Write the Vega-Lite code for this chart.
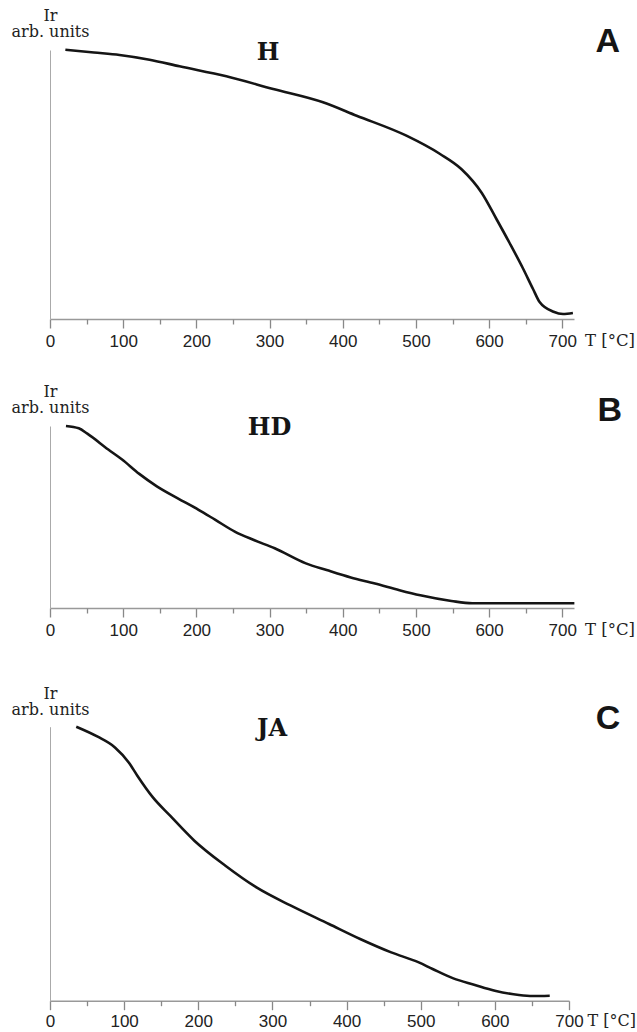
{
  "$schema": "https://vega.github.io/schema/vega-lite/v6.json",
  "background": "white",
  "padding": {"left": 11, "top": 7, "right": 0, "bottom": 0},
  "config": {"view": {"stroke": null}, "axis": {"grid": false}},
  "datasets": {
    "A": [
      {"T": 21, "Ir": 269.3}, {"T": 60, "Ir": 266.5}, {"T": 95, "Ir": 264}, {"T": 136, "Ir": 259.3},
      {"T": 177, "Ir": 252.7}, {"T": 241, "Ir": 242.7}, {"T": 305, "Ir": 230}, {"T": 373, "Ir": 216.7},
      {"T": 419, "Ir": 203.3}, {"T": 487, "Ir": 183.3}, {"T": 533, "Ir": 165}, {"T": 562, "Ir": 150},
      {"T": 590, "Ir": 126}, {"T": 610, "Ir": 100}, {"T": 628, "Ir": 76}, {"T": 646, "Ir": 51},
      {"T": 660, "Ir": 30}, {"T": 669, "Ir": 17}, {"T": 688, "Ir": 7.3}, {"T": 701, "Ir": 5},
      {"T": 714.5, "Ir": 6}
    ],
    "B": [
      {"T": 21.8, "Ir": 182}, {"T": 39.3, "Ir": 179.7}, {"T": 51, "Ir": 174.3}, {"T": 79.6, "Ir": 158.5},
      {"T": 98.5, "Ir": 148.5}, {"T": 122, "Ir": 134.1}, {"T": 146, "Ir": 121.7}, {"T": 174, "Ir": 109.9},
      {"T": 203, "Ir": 98.2}, {"T": 226, "Ir": 88.1}, {"T": 252.5, "Ir": 76.4}, {"T": 278.5, "Ir": 68},
      {"T": 307, "Ir": 59.7}, {"T": 349.6, "Ir": 44.6}, {"T": 378, "Ir": 37.9}, {"T": 411, "Ir": 30.5},
      {"T": 444, "Ir": 24.5}, {"T": 477.5, "Ir": 17.8}, {"T": 506, "Ir": 12.7}, {"T": 548.5, "Ir": 7},
      {"T": 577, "Ir": 4.7}, {"T": 716.5, "Ir": 4.7}
    ],
    "C": [
      {"T": 35.4, "Ir": 274}, {"T": 64.3, "Ir": 264}, {"T": 87.6, "Ir": 253.3}, {"T": 106.2, "Ir": 238.3},
      {"T": 117.8, "Ir": 225}, {"T": 138.8, "Ir": 203.3}, {"T": 162, "Ir": 185}, {"T": 194.7, "Ir": 160},
      {"T": 236.6, "Ir": 135}, {"T": 278.5, "Ir": 113.3}, {"T": 325, "Ir": 95}, {"T": 376.3, "Ir": 76.7},
      {"T": 418.3, "Ir": 61.7}, {"T": 460.2, "Ir": 48.3}, {"T": 497.4, "Ir": 38.3}, {"T": 516, "Ir": 31.7},
      {"T": 544, "Ir": 22.3}, {"T": 572, "Ir": 16}, {"T": 600, "Ir": 10}, {"T": 632.5, "Ir": 5.7},
      {"T": 651, "Ir": 4.7}, {"T": 674, "Ir": 5}
    ],
    "labels": [
      {"panel": "A", "sample": "H"},
      {"panel": "B", "sample": "HD"},
      {"panel": "C", "sample": "JA"}
    ]
  },
  "spacing": 107,
  "bounds": "flush",
  "vconcat": [
    {
      "width": 524,
      "height": 269,
      "resolve": {"axis": {"x": "independent", "y": "independent"}},
      "layer": [
        {
          "data": {"name": "A"},
          "mark": {"type": "line", "color": "#151515", "strokeWidth": 2.6, "interpolate": "monotone"},
          "encoding": {
            "x": {"field": "T", "type": "quantitative", "scale": {"domain": [0, 716], "nice": false, "zero": false},
              "axis": {"orient": "bottom", "values": [0, 100, 200, 300, 400, 500, 600, 700], "format": "d", "tickSize": 9, "tickColor": "#888", "tickWidth": 1.3,
                "domainColor": "#999", "domainWidth": 1.6, "labelFont": "Liberation Sans", "labelFontSize": 17, "labelColor": "#222",
                "labelPadding": 5, "labelFlush": false, "labelOverlap": false, "grid": false,
                "title": "T [°C]", "titleFont": "DejaVu Serif", "titleFontSize": 16.5, "titleFontWeight": "normal", "titleColor": "#222",
                "titleX": 534.5, "titleY": 13, "titleAlign": "left", "titleBaseline": "top"}},
            "y": {"field": "Ir", "type": "quantitative", "scale": {"domain": [0, 269], "nice": false, "zero": false},
              "axis": {"orient": "left", "domain": true, "domainColor": "#aaa", "domainWidth": 1, "ticks": false, "labels": false, "grid": false,
                "title": ["Ir", "arb. units"], "titleFont": "DejaVu Serif", "titleFontSize": 16, "titleFontWeight": "normal", "titleColor": "#222",
                "titleAngle": 0, "titleAlign": "center", "titleBaseline": "bottom", "titleX": 0, "titleY": -27, "titleLineHeight": 16}}
          }
        },
        {
          "data": {"name": "labels"},
          "transform": [{"filter": "datum.panel === 'A'"}],
          "mark": {"type": "text", "font": "DejaVu Serif", "fontWeight": "bold", "fontSize": 24, "color": "#151515", "align": "center", "baseline": "alphabetic"},
          "encoding": {
            "x": {"datum": 298, "type": "quantitative",
              "axis": {"orient": "bottom", "values": [50, 150, 250, 350, 450, 550, 650], "tickSize": 5, "tickColor": "#888", "tickWidth": 1.3, "domain": false, "labels": false, "title": null, "grid": false}},
            "y": {"datum": 259, "type": "quantitative", "axis": null},
            "text": {"field": "sample"}
          }
        },
        {
          "data": {"name": "labels"},
          "transform": [{"filter": "datum.panel === 'A'"}],
          "mark": {"type": "text", "font": "Liberation Sans", "fontWeight": "bold", "fontSize": 34, "color": "#151515", "align": "center", "baseline": "alphabetic"},
          "encoding": {
            "x": {"datum": 762, "type": "quantitative", "axis": null},
            "y": {"datum": 267, "type": "quantitative", "axis": null},
            "text": {"field": "panel"}
          }
        }
      ]
    },
    {
      "spacing": 118.7,
      "bounds": "flush",
      "vconcat": [
        {
          "width": 524,
          "height": 182,
          "resolve": {"axis": {"x": "independent", "y": "independent"}},
          "layer": [
            {
              "data": {"name": "B"},
              "mark": {"type": "line", "color": "#151515", "strokeWidth": 2.6, "interpolate": "monotone"},
              "encoding": {
                "x": {"field": "T", "type": "quantitative", "scale": {"domain": [0, 716], "nice": false, "zero": false},
                  "axis": {"orient": "bottom", "values": [0, 100, 200, 300, 400, 500, 600, 700], "format": "d", "tickSize": 9, "tickColor": "#888", "tickWidth": 1.3,
                    "domainColor": "#999", "domainWidth": 1.6, "labelFont": "Liberation Sans", "labelFontSize": 17, "labelColor": "#222",
                    "labelPadding": 5, "labelFlush": false, "labelOverlap": false, "grid": false,
                    "title": "T [°C]", "titleFont": "DejaVu Serif", "titleFontSize": 16.5, "titleFontWeight": "normal", "titleColor": "#222",
                    "titleX": 534.5, "titleY": 13, "titleAlign": "left", "titleBaseline": "top"}},
                "y": {"field": "Ir", "type": "quantitative", "scale": {"domain": [0, 182], "nice": false, "zero": false},
                  "axis": {"orient": "left", "domain": true, "domainColor": "#aaa", "domainWidth": 1, "ticks": false, "labels": false, "grid": false,
                    "title": ["Ir", "arb. units"], "titleFont": "DejaVu Serif", "titleFontSize": 16, "titleFontWeight": "normal", "titleColor": "#222",
                    "titleAngle": 0, "titleAlign": "center", "titleBaseline": "bottom", "titleX": 0, "titleY": -27, "titleLineHeight": 16}}
              }
            },
            {
              "data": {"name": "labels"},
              "transform": [{"filter": "datum.panel === 'B'"}],
              "mark": {"type": "text", "font": "DejaVu Serif", "fontWeight": "bold", "fontSize": 24, "color": "#151515", "align": "center", "baseline": "alphabetic"},
              "encoding": {
                "x": {"datum": 300, "type": "quantitative",
                  "axis": {"orient": "bottom", "values": [50, 150, 250, 350, 450, 550, 650], "tickSize": 5, "tickColor": "#888", "tickWidth": 1.3, "domain": false, "labels": false, "title": null, "grid": false}},
                "y": {"datum": 173, "type": "quantitative", "axis": null},
                "text": {"field": "sample"}
              }
            },
            {
              "data": {"name": "labels"},
              "transform": [{"filter": "datum.panel === 'B'"}],
              "mark": {"type": "text", "font": "Liberation Sans", "fontWeight": "bold", "fontSize": 34, "color": "#151515", "align": "center", "baseline": "alphabetic"},
              "encoding": {
                "x": {"datum": 765, "type": "quantitative", "axis": null},
                "y": {"datum": 187.3, "type": "quantitative", "axis": null},
                "text": {"field": "panel"}
              }
            }
          ]
        },
        {
          "width": 519,
          "height": 274,
          "resolve": {"axis": {"x": "independent", "y": "independent"}},
          "layer": [
            {
              "data": {"name": "C"},
              "mark": {"type": "line", "color": "#151515", "strokeWidth": 2.6, "interpolate": "monotone"},
              "encoding": {
                "x": {"field": "T", "type": "quantitative", "scale": {"domain": [0, 700], "nice": false, "zero": false},
                  "axis": {"orient": "bottom", "values": [0, 100, 200, 300, 400, 500, 600, 700], "format": "d", "tickSize": 9, "tickColor": "#888", "tickWidth": 1.3,
                    "domainColor": "#999", "domainWidth": 1.6, "labelFont": "Liberation Sans", "labelFontSize": 17, "labelColor": "#222",
                    "labelPadding": 4, "labelFlush": false, "labelOverlap": false, "grid": false,
                    "title": "T [°C]", "titleFont": "DejaVu Serif", "titleFontSize": 16, "titleFontWeight": "normal", "titleColor": "#222",
                    "titleX": 537, "titleY": 12, "titleAlign": "left", "titleBaseline": "top"}},
                "y": {"field": "Ir", "type": "quantitative", "scale": {"domain": [0, 274], "nice": false, "zero": false},
                  "axis": {"orient": "left", "domain": true, "domainColor": "#aaa", "domainWidth": 1, "ticks": false, "labels": false, "grid": false,
                    "title": ["Ir", "arb. units"], "titleFont": "DejaVu Serif", "titleFontSize": 16, "titleFontWeight": "normal", "titleColor": "#222",
                    "titleAngle": 0, "titleAlign": "center", "titleBaseline": "bottom", "titleX": 0, "titleY": -25, "titleLineHeight": 16}}
              }
            },
            {
              "data": {"name": "labels"},
              "transform": [{"filter": "datum.panel === 'C'"}],
              "mark": {"type": "text", "font": "DejaVu Serif", "fontWeight": "bold", "fontSize": 24, "color": "#151515", "align": "center", "baseline": "alphabetic"},
              "encoding": {
                "x": {"datum": 299.5, "type": "quantitative",
                  "axis": {"orient": "bottom", "values": [50, 150, 250, 350, 450, 550, 650], "tickSize": 5, "tickColor": "#888", "tickWidth": 1.3, "domain": false, "labels": false, "title": null, "grid": false}},
                "y": {"datum": 265, "type": "quantitative", "axis": null},
                "text": {"field": "sample"}
              }
            },
            {
              "data": {"name": "labels"},
              "transform": [{"filter": "datum.panel === 'C'"}],
              "mark": {"type": "text", "font": "Liberation Sans", "fontWeight": "bold", "fontSize": 34, "color": "#151515", "align": "center", "baseline": "alphabetic"},
              "encoding": {
                "x": {"datum": 752.7, "type": "quantitative", "axis": null},
                "y": {"datum": 271.7, "type": "quantitative", "axis": null},
                "text": {"field": "panel"}
              }
            }
          ]
        }
      ]
    }
  ]
}
